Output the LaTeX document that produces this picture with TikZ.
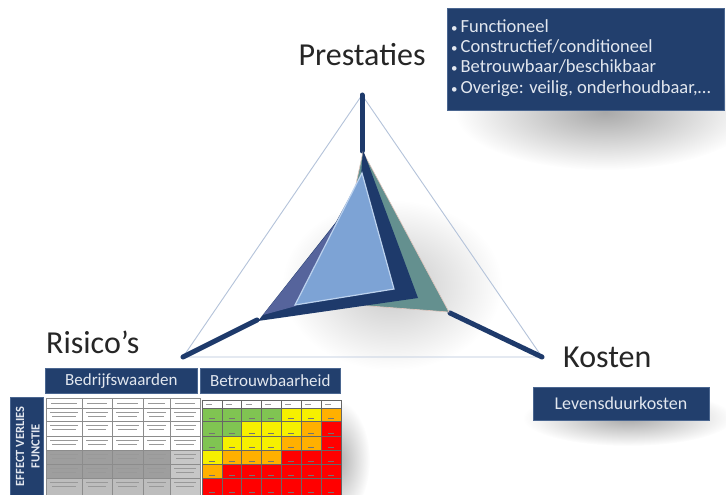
\documentclass[tikz,border=0pt]{standalone}
\usepackage{fontspec}
\setmainfont{Carlito}
\usetikzlibrary{fadings}
\definecolor{navy}{HTML}{1E3A6B}
\definecolor{boxblue}{HTML}{223F6D}
\definecolor{boxedge}{HTML}{4A6690}
\definecolor{boxtext}{HTML}{E2E7EF}
\definecolor{frameblue}{HTML}{B4C3DA}
\definecolor{tealgreen}{HTML}{64908F}
\definecolor{lavender}{HTML}{56649C}
\definecolor{paleblue}{HTML}{7DA3D5}
\definecolor{paleedge}{HTML}{BCD2EE}
\definecolor{pinkedge}{HTML}{E2C6BE}
\definecolor{cg}{HTML}{80C452}
\definecolor{cy}{HTML}{F6F000}
\definecolor{co}{HTML}{FFB000}
\definecolor{cr}{HTML}{FF0000}
\tikzfading[name=softspot,inner color=transparent!66,outer color=transparent!100]
\tikzfading[name=faintspot,inner color=transparent!78,outer color=transparent!100]

\begin{document}
\begin{tikzpicture}[x=1pt,y=-1pt,spoke/.style={line width=5pt,draw=navy,line cap=round},frame/.style={draw=frameblue,line width=0.9pt},axislabel/.style={font=\fontsize{32}{36}\selectfont,text=black!85,inner sep=0pt},darkbox/.style={fill=boxblue,draw=boxedge,line width=0.6pt,text=boxtext,inner sep=0pt},shadowspot/.style={fill=black,path fading=softspot},cellline/.style={draw=black!45,line width=0.4pt},blurtext/.style={draw=black!40,line width=0.9pt}]
\useasboundingbox (0,0) rectangle (726,495); \fill[white] (0,0) rectangle (726,495);
% soft shadows
\fill[shadowspot] (605,112) ellipse (150 and 58); \fill[black,path fading=faintspot] (392,285) ellipse (110 and 85);
\fill[shadowspot] (628,418) ellipse (105 and 28); \fill[shadowspot] (335,460) ellipse (35 and 60);
% radar frame and axes
\coordinate (ptop) at (362,95); \coordinate (pleft) at (183,357); \coordinate (pright) at (542,357);
\coordinate (stop) at (362,151); \coordinate (sleft) at (257,320); \coordinate (sright) at (450,313);
\draw[frame] (ptop)--(pleft)--(pright)--cycle;
\draw[spoke] (ptop)--(stop); \draw[spoke] (pleft)--(sleft); \draw[spoke] (pright)--(sright);
\filldraw[fill=tealgreen,draw=pinkedge,line width=0.6pt] (363,152)--(449,312)--(330,303)--cycle;
\fill[navy] (363,150)--(418,298)--(258,321)--(336,222)--(361,176)--cycle;
\fill[lavender] (263,315)--(336,223)--(296,306)--cycle;
\filldraw[fill=paleblue,draw=paleedge,line width=1.2pt] (362,173)--(394,289)--(295,305)--cycle;
% axis labels
\node[axislabel,anchor=base] (prest) at (362,66) {Prestaties};
\node[axislabel,anchor=base west] (risk) at (46,353) {Risico’s};
\node[axislabel,anchor=base west] (cost) at (563,367) {Kosten};
% performance box
\node[darkbox,anchor=north west,minimum width=277pt,minimum height=102pt] (perfbox) at (447,8) {};
\foreach \txt [count=\i] in {Functioneel,Constructief/conditioneel,Betrouwbaar/beschikbaar,{Overige: veilig, onderhoudbaar,\ldots}}
  \node[text=boxtext,inner sep=0pt,anchor=base west,font=\fontsize{18.5}{20}\selectfont] (item\i) at (451,{13+20*\i}) {{\fontsize{13}{14}\selectfont\textbullet}\hspace{3pt}\txt};
% cost box
\node[darkbox,minimum width=176pt,minimum height=33pt,font=\fontsize{18}{20}\selectfont] (lifebox) at (621,403.5) {Levensduurkosten};
% risk table
\node[darkbox,anchor=north west,minimum width=152pt,minimum height=25pt,font=\fontsize{17}{18}\selectfont] (bizhead) at (45,368) {Bedrijfswaarden};
\node[darkbox,anchor=north west,minimum width=140pt,minimum height=25pt,font=\fontsize{17}{18}\selectfont] (relhead) at (200,368) {Betrouwbaarheid};
\node[darkbox,anchor=north west,minimum width=33pt,minimum height=98pt] (effbox) at (10,397) {};
\node[text=boxtext,rotate=90,align=center,font=\bfseries\fontsize{12.5}{15.5}\selectfont] (efftext) at ([xshift=1pt]effbox.center) {EFFECT VERLIES\\FUNCTIE};
\fill[white] (45,397) rectangle (341,495);
\fill[black!38] (46,450) rectangle (170,478); \fill[black!26] (46,478) rectangle (170,495); \fill[black!22] (170,450) rectangle (200,495);
\foreach \xa/\xb in {46/82,82/112,112/143,143/170,170/200} {
  \draw[blurtext] ({\xa+5},403)--({\xb-5},403);
  \foreach \ya in {408,421,436,450,464,478} { \draw[blurtext] ({\xa+4},{\ya+4})--({\xb-4},{\ya+4}); \draw[blurtext] ({\xa+6},{\ya+8})--({\xb-6},{\ya+8}); }
}
\foreach \xa in {46,82,112,143,170,200} \draw[cellline] (\xa,398)--(\xa,495);
\foreach \ya in {398,408,421,436,450,464,478} \draw[cellline] (46,\ya)--(200,\ya);
\foreach \ya/\yb/\cols in {408/421/{cg,cg,cg,cg,cy,cy,co},421/436/{cg,cg,cy,cy,cy,co,cr},436/450/{cg,cy,cy,cy,co,co,cr},450/464/{cy,co,co,co,cr,cr,cr},464/478/{co,cr,cr,cr,cr,cr,cr},478/495/{cr,cr,cr,cr,cr,cr,cr}}
  \foreach \c [count=\k] in \cols {
    \fill[\c] ({202+19.86*(\k-1)},\ya) rectangle ({202+19.86*\k},\yb);
    \draw[black!55,line width=0.8pt] ({202+19.86*\k-13},{\yb-3})--({202+19.86*\k-7},{\yb-3});
  }
\foreach \k in {0,...,7} \draw[black!60,line width=0.5pt] ({202+19.86*\k},400)--({202+19.86*\k},495);
\foreach \ya in {400,408,421,436,450,464,478} \draw[black!60,line width=0.5pt] (202,\ya)--(341,\ya);
\foreach \k in {1,...,7} \draw[blurtext] ({202+19.86*\k-16},404)--({202+19.86*\k-10},404);
\end{tikzpicture}
\end{document}
